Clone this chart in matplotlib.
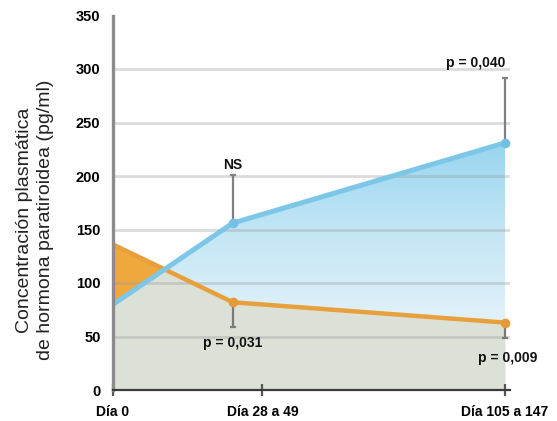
import numpy as np
import matplotlib
matplotlib.use("Agg")
import matplotlib.pyplot as plt
from matplotlib import font_manager as fm
from matplotlib.colors import LinearSegmentedColormap

def pick(*names):
    for n in names:
        try:
            fm.findfont(fm.FontProperties(family=n), fallback_to_default=False)
            return n
        except Exception:
            pass
    return "DejaVu Sans"

FONT = pick("Liberation Sans", "Arimo", "DejaVu Sans")

# ---- data ----
x_days = [0, 38.5, 126]                      # Día 0, Día 28-49 (midpoint), Día 105-147 (midpoint)
tick_pos = [0, 48, 126]
tick_labels = ["Día 0", "Día 28 a 49", "Día 105 a 147"]
blue_vals = [80, 156, 231]
orange_vals = [136, 82, 63]
blue_err_up = [0, 45, 61]                     # upper error bars (blue)
orange_err_down = [0, 23, 14]                 # lower error bars (orange)
y_ticks = [0, 50, 100, 150, 200, 250, 300, 350]
annotations = [("NS", 38.5, 210), ("p = 0,031", 38.5, 44),
               ("p = 0,040", 116.5, 306), ("p = 0,009", 127, 30)]

x = np.array(x_days)
b = np.array(blue_vals)
o = np.array(orange_vals)

fig = plt.figure(figsize=(5.57, 4.21), dpi=100)
ax = fig.add_axes([113/557, 31/421, (510-113)/557, (421-31-15.5)/421])

# grey area below the orange line
ax.fill_between(x, 0, o, color="#dce1d8", lw=0, zorder=1)
# orange wedge where orange above blue
ax.fill_between(x, b, o, where=o >= b, interpolate=True, color="#efa83e", lw=0, zorder=2)
# blue area with gradient where blue above orange
poly = ax.fill_between(x, o, b, where=b >= o, interpolate=True, color="none", lw=0, zorder=2)
grad = np.linspace(0, 1, 256).reshape(-1, 1)
cmap = LinearSegmentedColormap.from_list("bl", ["#e3f2f9", "#c2e6f5", "#93d3ef"])
im = ax.imshow(grad, extent=[0, 127.6, 60, 240], origin="lower", aspect="auto",
               cmap=cmap, zorder=2)
paths = poly.get_paths()
if paths:
    im.set_clip_path(paths[0], transform=ax.transData)
ax.set_ylim(0, 350)
ax.set_xlim(0, 127.6)

# grid lines
for yv in y_ticks[1:-1]:
    ax.axhline(yv, color="#9a9a9a", lw=2, alpha=0.35, zorder=3)

# error bars
ax.errorbar(x[1:], b[1:], yerr=[np.zeros(2), np.array(blue_err_up[1:])], fmt="none",
            ecolor="#808080", elinewidth=1.6, capsize=2.5, capthick=1.6, zorder=4)
ax.errorbar(x[1:], o[1:], yerr=[np.array(orange_err_down[1:]), np.zeros(2)], fmt="none",
            ecolor="#7a7a7a", elinewidth=1.6, capsize=2, capthick=1.6, zorder=4)

# lines
ax.plot(x, o, color="#e8a03c", lw=3.2, zorder=5, solid_capstyle="butt")
ax.plot(x, b, color="#7cc7e8", lw=3.6, zorder=5, solid_capstyle="butt")
ax.plot(x[1:], o[1:], "o", color="#e39a38", ms=7, mec="none", zorder=6)
ax.plot(x[1:], b[1:], "o", color="#74c0e4", ms=7, mec="none", zorder=6)

# annotations
for txt, xv, yv in annotations:
    ax.text(xv, yv, txt, ha="center", va="center", fontsize=10, fontweight="bold",
            family=FONT, color="#111111", zorder=7, clip_on=False)

# axes styling
for s in ["top", "right"]:
    ax.spines[s].set_visible(False)
ax.spines["left"].set_color("#8c8c8c")
ax.spines["left"].set_linewidth(2.4)
ax.spines["bottom"].set_color("#3a3a3a")
ax.spines["bottom"].set_linewidth(1.6)
ax.spines["bottom"].set_zorder(8)
ax.spines["left"].set_zorder(8)

ax.set_yticks(y_ticks)
ax.set_yticklabels([str(v) for v in y_ticks], fontsize=10.5, fontweight="bold", family=FONT)
ax.tick_params(axis="y", length=0, pad=9)
ax.set_xticks(tick_pos)
ax.set_xticklabels(tick_labels, fontsize=10, fontweight="bold", family=FONT)
ax.tick_params(axis="x", direction="inout", length=8, width=1.6, color="#555555", pad=7)

fig.text(35/557, (421-220)/421, "Concentración plasmática\nde hormona paratiroidea (pg/ml)",
         rotation=90, ha="center", va="center", fontsize=14, family=FONT,
         color="#222222", linespacing=1.3, multialignment="center")

fig.savefig("out.png", dpi=100)
